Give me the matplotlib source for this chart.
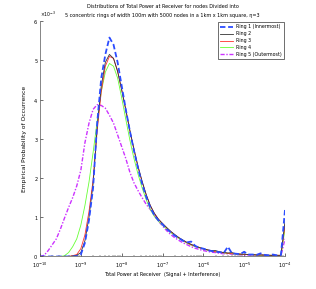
import numpy as np
import matplotlib
matplotlib.use("Agg")
import matplotlib.pyplot as plt
from matplotlib.ticker import LogLocator, NullFormatter

# log10 of total received power (bin centres)
log_power_bins = [-10.0, -9.9, -9.8, -9.7, -9.6, -9.5, -9.4, -9.3, -9.2, -9.1,
                  -9.0, -8.9, -8.8, -8.7, -8.6, -8.5, -8.4, -8.3, -8.2, -8.1,
                  -8.0, -7.9, -7.8, -7.7, -7.6, -7.5, -7.4, -7.3, -7.2, -7.1,
                  -7.0, -6.9, -6.8, -6.7, -6.6, -6.5, -6.4, -6.3, -6.2, -6.1,
                  -6.0, -5.9, -5.8, -5.7, -5.6, -5.5, -5.4, -5.3, -5.2, -5.1,
                  -5.0, -4.9, -4.8, -4.7, -4.6, -4.5, -4.4, -4.3, -4.2, -4.1,
                  -4.0]

# empirical probability (x 1e-3)
ring1 = [0, 0, 0, 0, 0, 0, 0, 0, 0, 0.01,
         0.05, 0.35, 0.93, 1.75, 3.4, 4.55, 5.15, 5.58, 5.4, 4.95,
         4.35, 3.75, 3.2, 2.7, 2.25, 1.85, 1.52, 1.25, 1.05, 0.92,
         0.82, 0.70, 0.62, 0.53, 0.47, 0.40, 0.36, 0.38, 0.27, 0.22,
         0.20, 0.16, 0.14, 0.12, 0.11, 0.09, 0.25, 0.08, 0.07, 0.06,
         0.12, 0.05, 0.05, 0.04, 0.08, 0.04, 0.03, 0.05, 0.03, 0.04,
         1.2]
ring2 = [0, 0, 0, 0, 0, 0, 0, 0, 0.01, 0.03,
         0.10, 0.40, 1.0, 1.85, 3.3, 4.35, 4.95, 5.15, 5.05, 4.72,
         4.25, 3.75, 3.22, 2.74, 2.3, 1.92, 1.58, 1.3, 1.1, 0.95,
         0.84, 0.74, 0.64, 0.56, 0.48, 0.42, 0.36, 0.31, 0.27, 0.23,
         0.20, 0.17, 0.15, 0.15, 0.12, 0.10, 0.09, 0.10, 0.07, 0.06,
         0.06, 0.05, 0.05, 0.04, 0.04, 0.04, 0.03, 0.03, 0.03, 0.03,
         0.9]
ring3 = [0, 0, 0, 0, 0, 0, 0, 0, 0.02, 0.05,
         0.20, 0.55, 1.15, 1.95, 3.2, 4.2, 4.85, 5.1, 5.05, 4.72,
         4.25, 3.73, 3.2, 2.72, 2.28, 1.9, 1.57, 1.3, 1.1, 0.95,
         0.84, 0.73, 0.64, 0.55, 0.48, 0.41, 0.35, 0.30, 0.26, 0.23,
         0.19, 0.17, 0.14, 0.12, 0.11, 0.10, 0.08, 0.07, 0.07, 0.06,
         0.05, 0.05, 0.04, 0.04, 0.04, 0.03, 0.03, 0.03, 0.03, 0.03,
         0.8]
ring4 = [0, 0, 0, 0, 0, 0, 0.02, 0.10, 0.25, 0.45,
         0.80, 1.3, 1.9, 2.65, 3.45, 4.2, 4.7, 4.92, 4.85, 4.55,
         4.05, 3.5, 2.97, 2.5, 2.1, 1.75, 1.45, 1.2, 1.02, 0.90,
         0.80, 0.70, 0.61, 0.53, 0.46, 0.40, 0.34, 0.29, 0.25, 0.22,
         0.19, 0.16, 0.14, 0.12, 0.11, 0.09, 0.08, 0.07, 0.06, 0.06,
         0.05, 0.05, 0.04, 0.04, 0.03, 0.03, 0.03, 0.03, 0.02, 0.03,
         0.7]
ring5 = [0, 0.03, 0.15, 0.30, 0.45, 0.70, 0.98, 1.25, 1.5, 1.8,
         2.2, 2.9, 3.4, 3.75, 3.87, 3.85, 3.78, 3.6, 3.4, 3.1,
         2.8, 2.5, 2.15, 1.88, 1.68, 1.5, 1.33, 1.2, 1.05, 0.90,
         0.78, 0.66, 0.56, 0.48, 0.41, 0.35, 0.30, 0.25, 0.21, 0.18,
         0.15, 0.13, 0.11, 0.10, 0.08, 0.07, 0.07, 0.06, 0.05, 0.05,
         0.04, 0.04, 0.03, 0.03, 0.03, 0.03, 0.02, 0.02, 0.02, 0.02,
         0.45]

labels = ["Ring 1 (Innermost)", "Ring 2", "Ring 3", "Ring 4", "Ring 5 (Outermost)"]
title_lines = ["Distributions of Total Power at Receiver for nodes Divided into",
               "5 concentric rings of width 100m with 5000 nodes in a 1km x 1km square, \u03b7=3"]

plt.rcParams['font.family'] = ['DejaVu Sans']
fig = plt.figure(figsize=(3.16, 2.89), dpi=100)
ax = fig.add_axes([0.1266, 0.1125, 0.7754, 0.8145])

x = 10.0 ** np.array(log_power_bins)
series = [ring1, ring2, ring3, ring4, ring5]
styles = [dict(color='#2b4cff', ls=(0, (3, 1.5)), lw=1.3),
          dict(color='#333333', ls='-', lw=0.6),
          dict(color='#ff3030', ls='-', lw=0.6),
          dict(color='#66ff33', ls='-', lw=0.6),
          dict(color='#cc33ff', ls=(0, (3, 1.2, 1, 1.2)), lw=1.0)]
order = [4, 3, 2, 1, 0]
handles = {}
for k in order:
    h, = ax.plot(x, np.array(series[k]) * 1e-3, label=labels[k], **styles[k])
    handles[k] = h

ax.set_xscale('log')
ax.set_xlim(1e-10, 1e-4)
ax.set_ylim(0, 6e-3)
ax.set_yticks(np.arange(0, 7) * 1e-3)
ax.ticklabel_format(axis='y', style='sci', scilimits=(0, 0), useMathText=True)
ax.yaxis.get_offset_text().set_fontsize(3.3)
ax.xaxis.set_major_locator(LogLocator(base=10, numticks=10))
ax.xaxis.set_minor_locator(LogLocator(base=10, subs=np.arange(2, 10), numticks=20))
ax.xaxis.set_minor_formatter(NullFormatter())
ax.tick_params(direction='in', labelsize=3.6, length=2, width=0.4, pad=1.2)
ax.tick_params(axis='x', pad=3.0)
ax.tick_params(which='minor', direction='in', length=1, width=0.3)
for s in ['top', 'right']:
    ax.spines[s].set_visible(False)
for s in ['left', 'bottom']:
    ax.spines[s].set_linewidth(0.5)
    ax.spines[s].set_color('#555555')

ax.set_xlabel("Total Power at Receiver  (Signal + Interference)", fontsize=3.5, labelpad=1.5)
ax.set_ylabel("Empirical Probability of Occurrence", fontsize=4.3, labelpad=5)
xc = 0.1266 + 0.7754 / 2
fig.text(xc, 1 - 6.0 / 289, title_lines[0], ha='center', va='center', fontsize=3.5)
fig.text(xc, 1 - 15.0 / 289, title_lines[1], ha='center', va='center', fontsize=3.5)

leg = ax.legend([handles[k] for k in range(5)], labels, loc='upper right',
                fontsize=3.4, frameon=True, fancybox=False, edgecolor='black',
                handlelength=2.8, borderaxespad=0.25, borderpad=0.45, labelspacing=0.4,
                handletextpad=0.6)
leg.get_frame().set_linewidth(0.5)

fig.savefig("out.png", dpi=100)
